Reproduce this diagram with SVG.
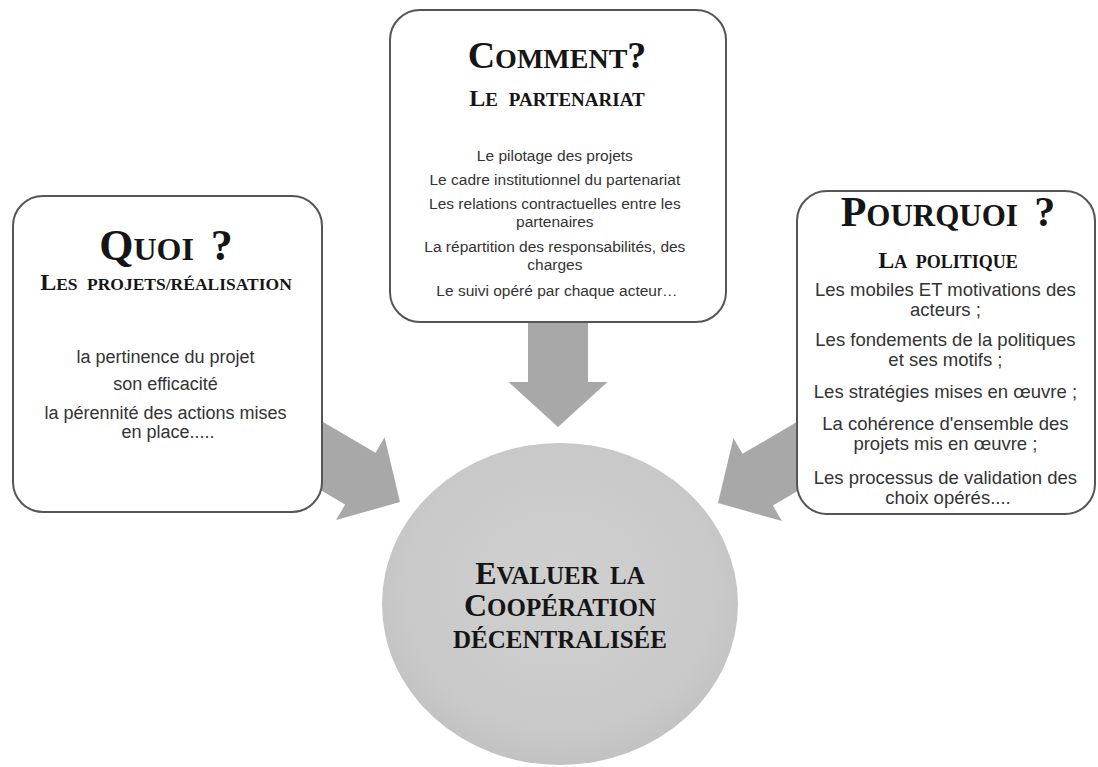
<svg xmlns="http://www.w3.org/2000/svg" width="1098" height="767" viewBox="0 0 1098 767">
  <defs>
    <radialGradient id="gCircle" cx="50%" cy="45%" r="55%">
      <stop offset="0" stop-color="#d0d0d0"/>
      <stop offset="0.8" stop-color="#c9c9c9"/>
      <stop offset="1" stop-color="#c2c2c2"/>
    </radialGradient>
    <style>
      .box { fill: #ffffff; stroke: #555555; stroke-width: 2; }
      .arrow { fill: #a8a8a8; }
      .head { font-family: "Liberation Serif", "DejaVu Serif", serif; font-weight: bold; fill: #151515; text-anchor: middle; }
      .body { font-family: "Liberation Sans", Arial, sans-serif; fill: #333333; text-anchor: middle; }
    </style>
  </defs>
  <rect width="1098" height="767" fill="#ffffff"/>

  <g id="connectors">
    <polygon class="arrow" transform="translate(558,427) rotate(90)" points="-45,-49.5 0,0 -45,49.5 -45,30 -110,30 -110,-30 -45,-30"/>
    <polygon class="arrow" transform="translate(400,502) rotate(30.4)" points="-46,-48 0,0 -46,48 -46,30 -130,30 -130,-30 -46,-30"/>
    <polygon class="arrow" transform="translate(718,503) rotate(149.6)" points="-46,-48 0,0 -46,48 -46,30 -130,30 -130,-30 -46,-30"/>
  </g>

  <g id="node-comment">
    <rect class="box" x="390" y="10" width="336" height="312" rx="30" ry="30"/>
    <text class="head" x="557" y="68" font-size="28"><tspan font-size="38">C</tspan>OMMENT<tspan font-size="38">?</tspan></text>
    <text class="head" x="557" y="106" font-size="19"><tspan font-size="24">L</tspan>E<tspan dx="6"> PARTENARIAT</tspan></text>
    <text class="body" font-size="15.5">
      <tspan x="557" y="161">Le pilotage des projets</tspan>
      <tspan x="557" y="185">Le cadre institutionnel du partenariat</tspan>
      <tspan x="557" y="209">Les relations contractuelles entre les</tspan>
      <tspan x="557" y="227">partenaires</tspan>
      <tspan x="557" y="252">La répartition des responsabilités, des</tspan>
      <tspan x="557" y="270">charges</tspan>
      <tspan x="557" y="296">Le suivi opéré par chaque acteur…</tspan>
    </text>
  </g>

  <g id="node-quoi">
    <rect class="box" x="13" y="196" width="309" height="316" rx="30" ry="30"/>
    <text class="head" x="166" y="260" font-size="32"><tspan font-size="44">Q</tspan>UOI<tspan font-size="44" dx="6"> ?</tspan></text>
    <text class="head" x="166" y="290" font-size="17.5"><tspan font-size="24">L</tspan>ES<tspan dx="5"> PROJETS/RÉALISATION</tspan></text>
    <text class="body" font-size="18">
      <tspan x="168" y="363">la pertinence du projet</tspan>
      <tspan x="168" y="390">son efficacité</tspan>
      <tspan x="168" y="419">la pérennité des actions mises</tspan>
      <tspan x="168" y="438">en place.....</tspan>
    </text>
  </g>

  <g id="node-pourquoi">
    <rect class="box" x="797" y="191" width="298" height="323" rx="30" ry="30"/>
    <text class="head" x="948" y="226" font-size="31"><tspan font-size="42">P</tspan>OURQUOI<tspan font-size="42" dx="6"> ?</tspan></text>
    <text class="head" x="948" y="268" font-size="18"><tspan font-size="24">L</tspan>A<tspan dx="5"> POLITIQUE</tspan></text>
    <text class="body" font-size="18.5">
      <tspan x="948" y="296">Les mobiles ET motivations des</tspan>
      <tspan x="948" y="316">acteurs ;</tspan>
      <tspan x="948" y="346">Les fondements de la politiques</tspan>
      <tspan x="948" y="366">et ses motifs ;</tspan>
      <tspan x="948" y="398">Les stratégies mises en œuvre ;</tspan>
      <tspan x="948" y="430">La cohérence d'ensemble des</tspan>
      <tspan x="948" y="450">projets mis en œuvre ;</tspan>
      <tspan x="948" y="484">Les processus de validation des</tspan>
      <tspan x="948" y="504">choix opérés....</tspan>
    </text>
  </g>

  <g id="node-evaluer">
    <ellipse cx="560" cy="604" rx="178" ry="161" fill="url(#gCircle)"/>
    <text class="head" x="560" y="584" font-size="25"><tspan font-size="32">E</tspan>VALUER<tspan dx="5"> LA</tspan></text>
    <text class="head" x="560" y="616" font-size="25"><tspan font-size="32">C</tspan>OOPÉRATION</text>
    <text class="head" x="560" y="648" font-size="25">DÉCENTRALISÉE</text>
  </g>
</svg>
